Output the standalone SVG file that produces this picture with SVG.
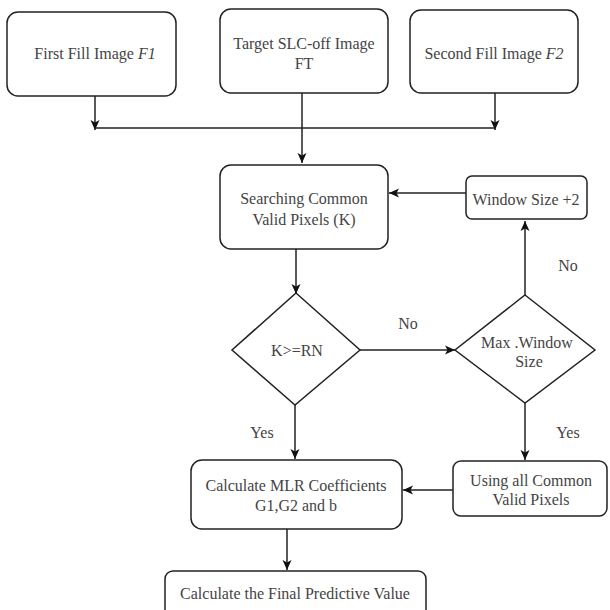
<svg xmlns="http://www.w3.org/2000/svg" width="610" height="610" viewBox="0 0 610 610">
<defs>
<marker id="ah" markerWidth="10" markerHeight="10" refX="10" refY="5" orient="auto" markerUnits="userSpaceOnUse">
<path d="M0,0.5 L10,5 L0,9.5 L2.5,5 z" fill="#111"/>
</marker>
<style>
.box{fill:#fff;stroke:#222;stroke-width:1.5}
.t{font-family:"Liberation Serif","Times New Roman",serif;font-size:16px;fill:#444;text-anchor:middle;dominant-baseline:central}
.c{fill:none;stroke:#222;stroke-width:1.5}
.ca{fill:none;stroke:#222;stroke-width:1.5;marker-end:url(#ah)}
</style>
</defs>
<rect width="610" height="610" fill="#fff"/>
<g id="connectors">
<line class="ca" x1="95" y1="96" x2="95" y2="130"/>
<line class="ca" x1="495" y1="93" x2="495" y2="130"/>
<line class="c" x1="95" y1="128" x2="495" y2="128"/>
<line class="ca" x1="302" y1="93" x2="302" y2="163"/>
<line class="ca" x1="296" y1="249" x2="296" y2="294"/>
<line class="ca" x1="360" y1="350" x2="455" y2="350"/>
<line class="ca" x1="525" y1="295" x2="525" y2="221"/>
<line class="ca" x1="466" y1="193" x2="389" y2="193"/>
<line class="ca" x1="295" y1="405" x2="295" y2="459"/>
<line class="ca" x1="525" y1="403" x2="525" y2="460"/>
<line class="ca" x1="453" y1="490" x2="403" y2="490"/>
<line class="ca" x1="287" y1="529" x2="287" y2="570"/>
<text class="t" x="408" y="323">No</text>
<text class="t" x="568" y="265">No</text>
<text class="t" x="262" y="432">Yes</text>
<text class="t" x="568" y="432">Yes</text>
</g>
<g id="first-fill">
<rect class="box" x="7" y="12" width="169" height="84" rx="11"/>
<text class="t" x="95" y="53">First Fill Image <tspan font-style="italic">F1</tspan></text>
</g>
<g id="target">
<rect class="box" x="220" y="9" width="168" height="84" rx="11"/>
<text class="t" x="304" y="43">Target SLC-off Image</text>
<text class="t" x="304" y="63">FT</text>
</g>
<g id="second-fill">
<rect class="box" x="410" y="10" width="168" height="83" rx="11"/>
<text class="t" x="494" y="53">Second Fill Image <tspan font-style="italic">F2</tspan></text>
</g>
<g id="searching">
<rect class="box" x="220" y="165" width="168" height="84" rx="11"/>
<text class="t" x="304" y="198">Searching Common</text>
<text class="t" x="304" y="219">Valid Pixels (K)</text>
</g>
<g id="window-size">
<rect class="box" x="466" y="176" width="121" height="43" rx="6"/>
<text class="t" x="526" y="199">Window Size +2</text>
</g>
<g id="decision-k">
<polygon class="box" points="296,293 360,350 295,405 232,350"/>
<text class="t" x="297" y="350">K&gt;=RN</text>
</g>
<g id="decision-max">
<polygon class="box" points="525,295 595,350 525,403 455,350"/>
<text class="t" x="527" y="342">Max .Window</text>
<text class="t" x="529" y="361">Size</text>
</g>
<g id="using-all">
<rect class="box" x="453" y="461" width="154" height="55" rx="8"/>
<text class="t" x="531" y="480">Using all Common</text>
<text class="t" x="531" y="499">Valid Pixels</text>
</g>
<g id="mlr">
<rect class="box" x="191" y="460" width="211" height="69" rx="11"/>
<text class="t" x="296" y="485">Calculate MLR Coefficients</text>
<text class="t" x="296" y="505">G1,G2 and b</text>
</g>
<g id="final">
<rect class="box" x="165" y="571" width="261" height="50" rx="8"/>
<text class="t" x="295" y="593">Calculate the Final Predictive Value</text>
</g>
</svg>
